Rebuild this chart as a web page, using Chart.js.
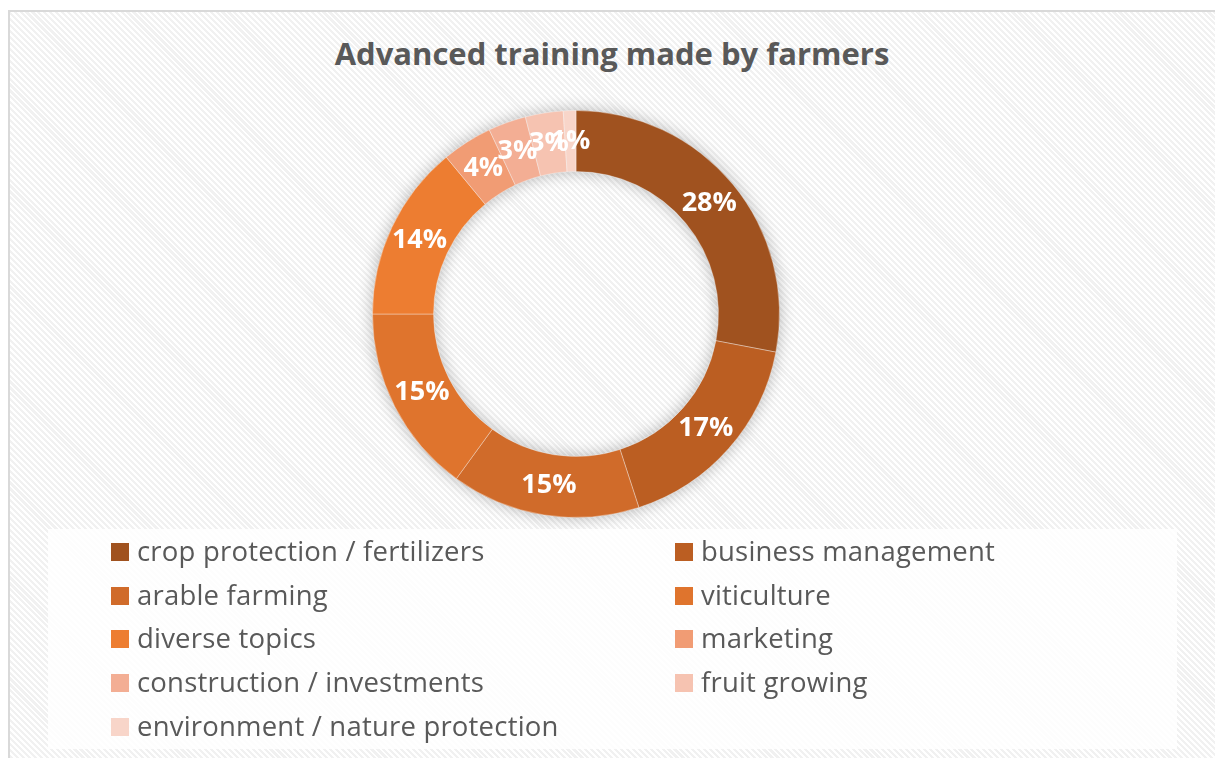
<!DOCTYPE html>
<html>
<head>
<meta charset="utf-8">
<script src="https://cdn.jsdelivr.net/npm/chart.js@4.4.1/dist/chart.umd.min.js"></script>
<style>
  html, body { margin:0; padding:0; background:#ffffff; }
  body { width:1215px; height:758px; position:relative; overflow:hidden; font-family: "Open Sans", Lato, sans-serif; }
  #frame { position:absolute; left:8px; top:10px; width:1220px; height:760px;
    border-left:2px solid #d9d9d9; border-top:2px solid #d9d9d9;
    background: repeating-linear-gradient(45deg, #ffffff 0px, #ffffff 2px, #f1f1f1 2px, #f1f1f1 4.2px); }
  #title { position:absolute; left:0; width:1224px; top:33px; text-align:center;
    font-weight:700; font-size:31px; line-height:40px; color:#595959; letter-spacing:0px; }
  #chartBox { position:absolute; left:352px; top:90px; width:448px; height:448px; }
  #legend { position:absolute; left:48px; top:529px; width:1129px; height:220px;
    background: rgba(255,255,255,0.82); }
  .item { position:absolute; font-size:27.5px; color:#595959; white-space:nowrap; line-height:32px; }
  .item .sw { position:absolute; left:0; top:8px; width:18px; height:18px; }
  .item .tx { position:absolute; left:26px; top:0; letter-spacing:0.2px; }
</style>
</head>
<body>
<div id="frame"></div>
<div id="title">Advanced training made by farmers</div>
<div id="chartBox"><canvas id="c"></canvas></div>
<div id="legend"></div>
<script>
const categories = [
  "crop protection / fertilizers",
  "business management",
  "arable farming",
  "viticulture",
  "diverse topics",
  "marketing",
  "construction / investments",
  "fruit growing",
  "environment / nature protection"
];
const shares = [28, 17, 15, 15, 14, 4, 3, 3, 1];
const sliceColors = ["#A0521F", "#BB5E22", "#D06B2A", "#DF742D", "#ED7D31", "#F19C74", "#F3AE94", "#F6C3B1", "#F8D5C9"];

// HTML legend built from the arrays
const legend = document.getElementById('legend');
categories.forEach((name, i) => {
  const col = i % 2, row = Math.floor(i / 2);
  const d = document.createElement('div');
  d.className = 'item';
  d.style.left = (col === 0 ? 63 : 627) + 'px';
  d.style.top = (6 + row * 43.7) + 'px';
  d.innerHTML = '<span class="sw" style="background:' + sliceColors[i] + '"></span><span class="tx"></span>';
  d.querySelector('.tx').textContent = name;
  legend.appendChild(d);
});

const ringShadow = {
  id: 'ringShadow',
  beforeDatasetsDraw(chart) {
    const arc = chart.getDatasetMeta(0).data[0];
    if (!arc) return;
    const ctx = chart.ctx;
    ctx.save();
    ctx.shadowColor = 'rgba(0,0,0,0.28)';
    ctx.shadowBlur = 16;
    ctx.fillStyle = '#cccccc';
    ctx.beginPath();
    ctx.arc(arc.x, arc.y, arc.outerRadius, 0, Math.PI * 2);
    ctx.arc(arc.x, arc.y, arc.innerRadius, 0, Math.PI * 2, true);
    ctx.fill();
    ctx.restore();
  }
};

const sliceLabels = {
  id: 'sliceLabels',
  afterDatasetsDraw(chart) {
    const ctx = chart.ctx;
    const data = chart.data.datasets[0].data;
    const total = data.reduce((a, b) => a + b, 0);
    ctx.save();
    ctx.fillStyle = '#ffffff';
    ctx.font = 'bold 27px "Open Sans", Lato, sans-serif';
    ctx.textAlign = 'center';
    ctx.textBaseline = 'middle';
    chart.getDatasetMeta(0).data.forEach((el, i) => {
      const p = el.tooltipPosition();
      ctx.fillText(Math.round(data[i] / total * 100) + '%', p.x, p.y);
    });
    ctx.restore();
  }
};

new Chart(document.getElementById('c'), {
  type: 'doughnut',
  data: {
    labels: categories,
    datasets: [{
      data: shares,
      backgroundColor: sliceColors,
      borderColor: 'rgba(255,255,255,0.35)',
      borderWidth: 1
    }]
  },
  options: {
    responsive: true,
    maintainAspectRatio: false,
    animation: false,
    cutout: '70%',
    layout: { padding: 20 },
    plugins: {
      legend: { display: false },
      title: { display: false },
      tooltip: { enabled: false }
    }
  },
  plugins: [ringShadow, sliceLabels]
});
</script>
</body>
</html>
